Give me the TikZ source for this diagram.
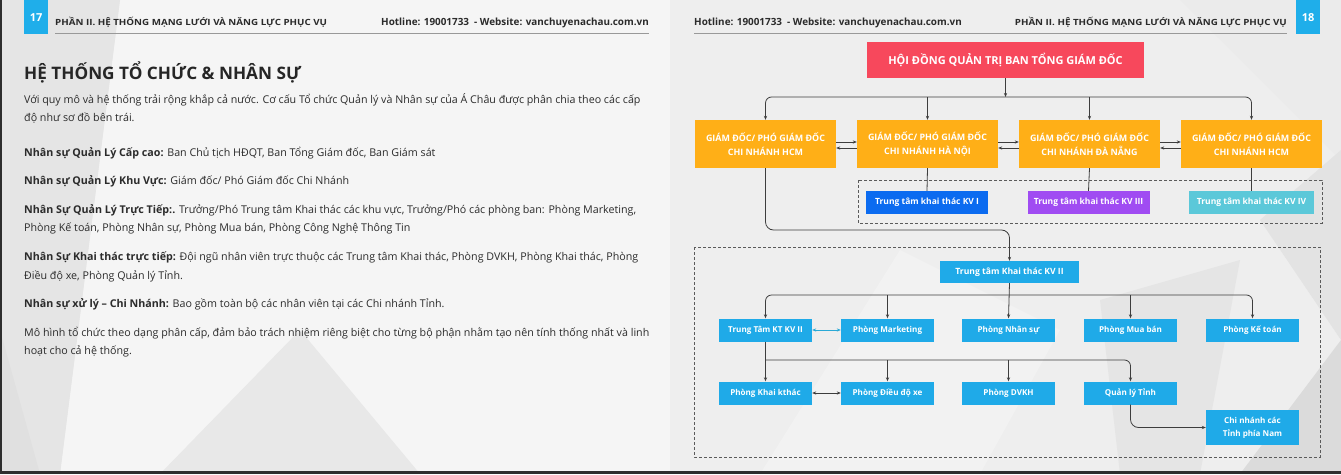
\documentclass[tikz,border=0pt]{standalone}
\usepackage{fontspec}
\setmainfont{Open Sans}
\newfontfamily\widesans[FakeStretch=1.15]{Open Sans}
\usetikzlibrary{arrows.meta}
\definecolor{yel}{HTML}{FFAF17}
\definecolor{redb}{HTML}{F7485C}
\definecolor{sky}{HTML}{1FAAE8}
\definecolor{kvone}{HTML}{0B6BF0}
\definecolor{kvthree}{HTML}{A04CF2}
\definecolor{kvfour}{HTML}{5BC8D9}
\definecolor{pgblue}{HTML}{1FAEEA}
\definecolor{lin}{HTML}{3D3D3D}
\definecolor{txt}{HTML}{2B2B2B}
\definecolor{teal2}{HTML}{2AA9D6}
\definecolor{bgbase}{HTML}{EEEEEE}
\tikzset{
  conn/.style={draw=lin, line width=0.8pt},
  arr/.style={conn, -{Stealth[length=4pt,width=3.2pt]}},
  dbl/.style={conn, {Stealth[length=4pt,width=3.2pt]}-{Stealth[length=4pt,width=3.2pt]}},
  frm/.style={draw=lin!85, line width=0.8pt, dash pattern=on 3pt off 2pt},
  ybox/.style={fill=yel, text=white, minimum width=141pt, minimum height=48pt, inner sep=0pt, align=center, font=\fontsize{8.9}{14}\selectfont\bfseries},
  kvbox/.style={text=white, minimum width=122pt, minimum height=23pt, inner sep=0pt, font=\fontsize{8.5}{9}\selectfont\bfseries},
  pbox/.style={fill=sky, text=white, minimum width=93pt, minimum height=23pt, inner sep=0pt, align=center, font=\fontsize{8.1}{13}\selectfont\bfseries},
  body/.style={anchor=base west, inner sep=0pt, text=txt, font=\fontsize{10.7}{12}\selectfont},
  hdr/.style={anchor=base west, inner sep=0pt, text=txt, font=\fontsize{9.9}{11}\selectfont\bfseries},
  hdrcap/.style={anchor=base west, inner sep=0pt, text=txt, font=\widesans\fontsize{8.5}{11}\selectfont\bfseries},
  pgno/.style={fill=pgblue, text=white, minimum width=24pt, minimum height=34pt, inner sep=0pt, font=\fontsize{11}{12}\selectfont\bfseries},
}
\begin{document}
\begin{tikzpicture}[x=1pt,y=-1pt]
\useasboundingbox (0,0) rectangle (1341,474);
% background
\fill[bgbase] (0,0) rectangle (1341,474);
\fill[white!96!black] (120,0) -- (670,0) -- (670,474) -- (420,474) -- (300,330) -- (160,474) -- (60,474) -- cycle;
\fill[white!90!black] (0,0) -- (120,0) -- (60,474) -- (0,474) -- cycle;
\fill[white!88!black] (0,330) -- (40,474) -- (0,474) -- cycle;
\fill[white!91!black] (160,474) -- (300,330) -- (420,474) -- cycle;
\fill[white!92!black] (1180,0) -- (1341,0) -- (1341,160) -- cycle;
\fill[white!89!black] (1260,220) -- (1341,150) -- (1341,340) -- cycle;
\fill[white!86!black] (1240,474) -- (1341,340) -- (1341,474) -- cycle;
\fill[white!95!black] (900,250) -- (1060,330) -- (980,474) -- (760,474) -- cycle;
\fill[white!90!black] (1100,300) -- (1240,260) -- (1200,474) -- (1120,474) -- cycle;
% frame edges
\fill[black!82] (0,0) rectangle (1.6,474);
\fill[black!82] (0,471) rectangle (1341,474);

% headers left
\node[pgno, anchor=north west] (p17) at (24,0) {\raisebox{-7pt}{17}};
\node[hdrcap] (h1) at (55,25.5) {PHẦN II. HỆ THỐNG MẠNG LƯỚI VÀ NĂNG LỰC PHỤC VỤ};
\node[hdr, anchor=base east] (h2) at (649,25.5) {Hotline: 19001733\ \ - Website: vanchuyenachau.com.vn};
\draw[black!40, line width=0.8pt] (55,33.5) -- (649,33.5);
% headers right
\node[pgno, anchor=north west] (p18) at (1296,0) {\raisebox{-7pt}{18}};
\node[hdr] (h3) at (694,25.5) {Hotline: 19001733\ \ - Website: vanchuyenachau.com.vn};
\node[hdrcap, anchor=base east] (h4) at (1287,25.5) {PHẦN II. HỆ THỐNG MẠNG LƯỚI VÀ NĂNG LỰC PHỤC VỤ};
\draw[black!40, line width=0.8pt] (694,33.5) -- (1287,33.5);

% title & body
\node[anchor=base west, inner sep=0pt, text=black!85, font=\fontsize{17.2}{19}\selectfont\bfseries] (title) at (24,79) {HỆ THỐNG TỔ CHỨC \& NHÂN SỰ};
\node[body] (b1) at (24,103.5) {Với quy mô và hệ thống trải rộng khắp cả nước. Cơ cấu Tổ chức Quản lý và Nhân sự của Á Châu được phân chia theo các cấp};
\node[body] (b2) at (24,121.5) {độ như sơ đồ bên trái.};
\node[body] (b3) at (24,156.5) {\textbf{Nhân sự Quản Lý Cấp cao:} Ban Chủ tịch HĐQT, Ban Tổng Giám đốc, Ban Giám sát};
\node[body] (b4) at (24,184.5) {\textbf{Nhân sự Quản Lý Khu Vực:} Giám đốc/ Phó Giám đốc Chi Nhánh};
\node[body] (b5) at (24,213.5) {\textbf{Nhân Sự Quản Lý Trực Tiếp:.} Trưởng/Phó Trung tâm Khai thác các khu vực, Trưởng/Phó các phòng ban: Phòng Marketing,};
\node[body] (b6) at (24,231.5) {Phòng Kế toán, Phòng Nhân sự, Phòng Mua bán, Phòng Công Nghệ Thông Tin};
\node[body] (b7) at (24,260.5) {\textbf{Nhân Sự Khai thác trực tiếp:} Đội ngũ nhân viên trực thuộc các Trung tâm Khai thác, Phòng DVKH, Phòng Khai thác, Phòng};
\node[body] (b8) at (24,279) {Điều độ xe, Phòng Quản lý Tỉnh.};
\node[body] (b9) at (24,307.5) {\textbf{Nhân sự xử lý – Chi Nhánh:} Bao gồm toàn bộ các nhân viên tại các Chi nhánh Tỉnh.};
\node[body] (b10) at (24,336.5) {Mô hình tổ chức theo dạng phân cấp, đảm bảo trách nhiệm riêng biệt cho từng bộ phận nhằm tạo nên tính thống nhất và linh};
\node[body] (b11) at (24,354.5) {hoạt cho cả hệ thống.};

% dashed frames
\draw[frm] (858,180) rectangle (1322,223);
\draw[frm] (694,247) rectangle (1320,457);

% org chart nodes
\node[fill=redb, text=white, minimum width=277pt, minimum height=36pt, inner sep=0pt, font=\fontsize{11}{12}\selectfont\bfseries] (red) at (1005.5,60) {HỘI ĐỒNG QUẢN TRỊ BAN TỔNG GIÁM ĐỐC};
\node[ybox] (y1) at (765.5,144) {GIÁM ĐỐC/ PHÓ GIÁM ĐỐC\\CHI NHÁNH HCM};
\node[ybox] (y2) at (927.5,144) {GIÁM ĐỐC/ PHÓ GIÁM ĐỐC\\CHI NHÁNH HÀ NỘI};
\node[ybox] (y3) at (1089.5,144) {GIÁM ĐỐC/ PHÓ GIÁM ĐỐC\\CHI NHÁNH ĐÀ NẴNG};
\node[ybox] (y4) at (1251.5,144) {GIÁM ĐỐC/ PHÓ GIÁM ĐỐC\\CHI NHÁNH HCM};
\node[kvbox, fill=kvone] (kv1) at (927,202.5) {Trung tâm khai thác KV I};
\node[kvbox, fill=kvthree] (kv3) at (1088.5,202.5) {Trung tâm khai thác KV III};
\node[kvbox, fill=kvfour, minimum width=125pt] (kv4) at (1251.5,202.5) {Trung tâm khai thác KV IV};
\node[pbox, minimum width=139pt, minimum height=22pt, font=\fontsize{8.6}{9}\selectfont\bfseries] (kv2) at (1009.5,272) {Trung tâm Khai thác KV II};
\node[pbox] (r1a) at (765.5,330) {Trung Tâm KT KV II};
\node[pbox] (r1b) at (887.5,330) {Phòng Marketing};
\node[pbox] (r1c) at (1008.5,330) {Phòng Nhân sự};
\node[pbox] (r1d) at (1130.5,330) {Phòng Mua bán};
\node[pbox] (r1e) at (1252.5,330) {Phòng Kế toán};
\node[pbox] (r2a) at (765.5,393) {Phòng Khai kthác};
\node[pbox] (r2b) at (887.5,393) {Phòng Điều độ xe};
\node[pbox] (r2c) at (1008.5,393) {Phòng DVKH};
\node[pbox] (r2d) at (1130.5,393) {Quản lý Tỉnh};
\node[pbox, minimum height=35pt] (chi) at (1252.5,427.5) {Chi nhánh các\\Tỉnh phía Nam};

% coordinates
\coordinate (busT) at (1005.5,97);
\coordinate (turn) at (1009.5,230);
\coordinate (bus2) at (1009.5,295);
\coordinate (bus3) at (765.5,360);

% connectors top
\draw[arr] (red.south) -- (busT);
\draw[arr, rounded corners=6pt] (busT) -| (y1.north);
\draw[arr, rounded corners=6pt] (busT) -| (y4.north);
\draw[arr] (y2.north |- busT) -- (y2.north);
\draw[arr] (y3.north |- busT) -- (y3.north);
\foreach \a/\b in {y1/y2, y2/y3, y3/y4}{
  \draw[arr] ([yshift=2pt]\a.east) -- ([yshift=2pt]\b.west);
  \draw[arr] ([yshift=-4pt]\b.west) -- ([yshift=-4pt]\a.east);
}
\draw[conn] (y2.south) -- (kv1.north);
\draw[conn] (y3.south) -- (kv3.north);
\draw[conn] (y4.south) -- (kv4.north);
\draw[arr, rounded corners=8pt] (y1.south) |- (turn) -- (kv2.north);

% second level
\draw[arr] (kv2.south) -- (r1c.north);
\draw[arr, rounded corners=6pt] (bus2) -| (r1a.north);
\draw[arr, rounded corners=6pt] (bus2) -| (r1e.north);
\draw[arr] (r1b.north |- bus2) -- (r1b.north);
\draw[arr] (r1d.north |- bus2) -- (r1d.north);
\draw[dbl, draw=teal2] (r1a.east) -- (r1b.west);

% third level
\draw[arr] (r1a.south) -- (r2a.north);
\draw[arr, rounded corners=6pt] (bus3) -| (r2d.north);
\draw[arr] (r2b.north |- bus3) -- (r2b.north);
\draw[arr] (r2c.north |- bus3) -- (r2c.north);
\draw[dbl] (r2a.east) -- (r2b.west);
\draw[arr, rounded corners=8pt] (r2d.south) |- (chi.west);
\end{tikzpicture}
\end{document}
